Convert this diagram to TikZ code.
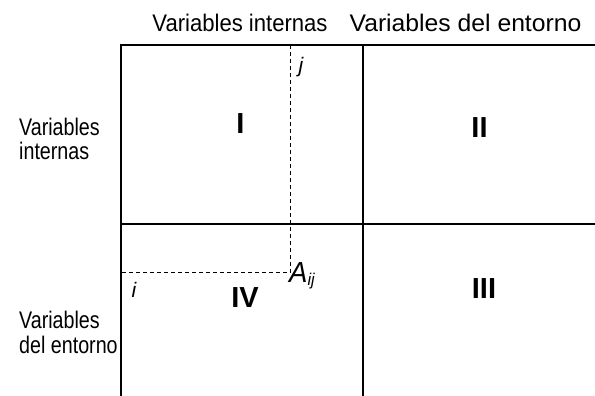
\documentclass[tikz,border=0pt]{standalone}
\usepackage{fontspec}
\setmainfont{Liberation Sans}
\newfontfamily\topfont{Liberation Sans}[FakeStretch=0.92]
\newfontfamily\topfontb{Liberation Sans}[FakeStretch=1.03]
\newfontfamily\sidefont{Liberation Sans}[FakeStretch=0.82]
\newfontfamily\afont{Liberation Sans}[FakeStretch=0.95]
\begin{document}
\begin{tikzpicture}[x=1pt,y=-1pt,
  gridline/.style={draw=black,line width=1.1pt},
  dashline/.style={draw=black,line width=0.9pt,dash pattern=on 4pt off 3pt},
  toplbl/.style={inner sep=0pt,anchor=base,font=\topfont\fontsize{24}{26}\selectfont},
  sidelbl/.style={inner sep=0pt,anchor=base west,align=left,font=\sidefont\fontsize{24}{24.5}\selectfont},
  roman/.style={inner sep=0pt,anchor=base,font=\fontsize{29}{30}\selectfont\bfseries},
  idx/.style={inner sep=0pt,anchor=base,font=\fontsize{21}{24}\selectfont\itshape}]
\useasboundingbox (0,0) rectangle (595,396);
% grid
\coordinate (TL) at (121,45);
\coordinate (TR) at (595,45);
\coordinate (TM) at (363,45);
\coordinate (BL) at (121,396);
\coordinate (BM) at (363,396);
\coordinate (ML) at (121,224);
\coordinate (MR) at (595,224);
\draw[gridline] (TR) -- (TL) -- (BL);
\draw[gridline] (TM) -- (BM);
\draw[gridline] (ML) -- (MR);
% dashed lines
\coordinate (Jtop) at (290,45);
\coordinate (Aij) at (290,272.5);
\coordinate (Ileft) at (121,272.5);
\draw[dashline] (Jtop) -- (Aij) -- (Ileft);
% headers
\node[toplbl] (h1) at (240,32) {Variables internas};
\node[toplbl,font=\topfontb\fontsize{24}{26}\selectfont] (h2) at (465.5,32) {Variables del entorno};
\node[sidelbl] (r1) at (19,160) {Variables\\internas};
\node[sidelbl] (r2) at (19,353) {Variables\\del entorno};
% roman numerals
\node[roman] (q1) at (240.5,133) {I};
\node[roman] (q2) at (479.5,138) {II};
\node[roman] (q3) at (484,298) {III};
\node[roman] (q4) at (245,307) {IV};
% indices
\node[idx] (j) at (301,73) {j};
\node[idx] (i) at (134,297) {i};
\node[inner sep=0pt,anchor=base west,font=\afont\fontsize{29}{30}\selectfont\itshape] (A) at (289,282) {A\textsubscript{\fontsize{17}{18}\selectfont ij}};
\end{tikzpicture}
\end{document}
